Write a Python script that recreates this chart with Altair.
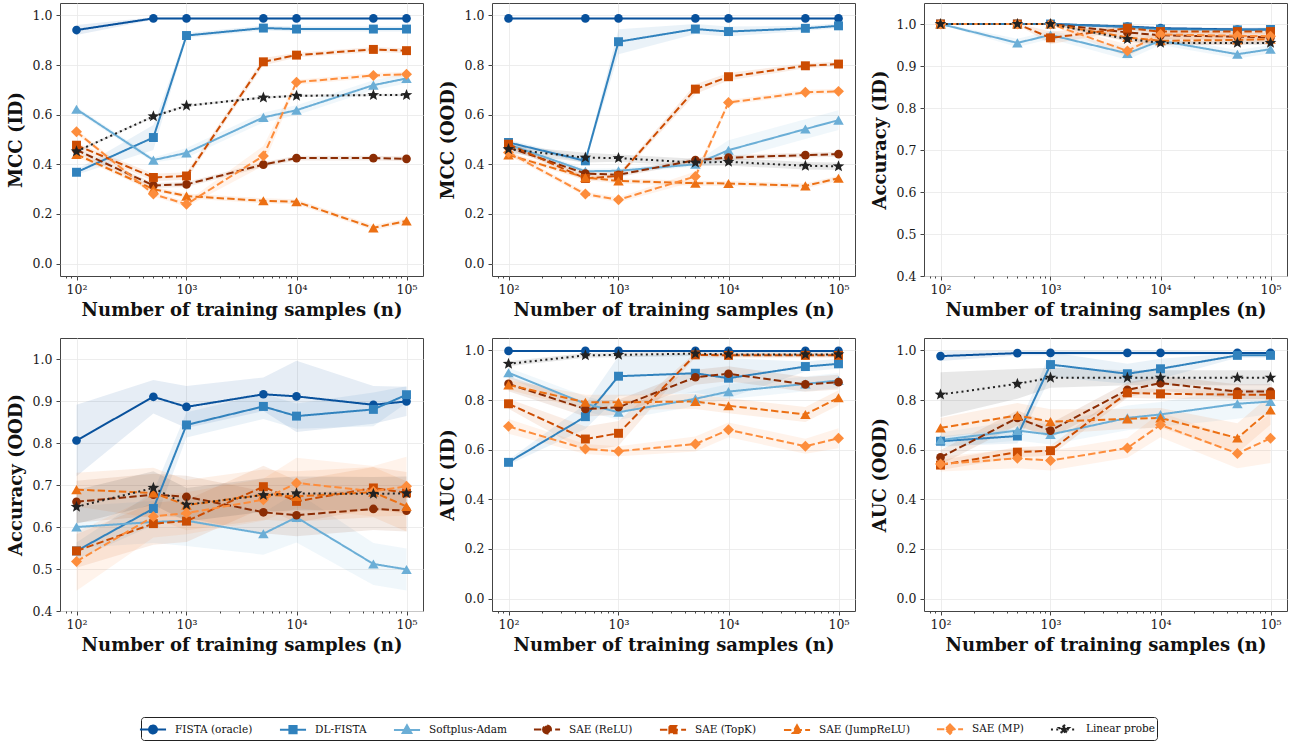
import math
import altair as alt
import pandas as pd

# ---------------------------------------------------------------- data
N_SAMPLES = [100, 500, 1000, 5000, 10000, 50000, 100000]

METHODS = ["FISTA (oracle)", "DL-FISTA", "Softplus-Adam", "SAE (ReLU)",
           "SAE (TopK)", "SAE (JumpReLU)", "SAE (MP)", "Linear probe"]

# rows follow METHODS, columns follow N_SAMPLES
MCC_ID = [
    [0.941, 0.988, 0.988, 0.988, 0.988, 0.988, 0.988],
    [0.368, 0.508, 0.919, 0.949, 0.945, 0.945, 0.945],
    [0.622, 0.417, 0.446, 0.589, 0.618, 0.719, 0.746],
    [0.458, 0.315, 0.319, 0.399, 0.425, 0.425, 0.422],
    [0.477, 0.347, 0.353, 0.813, 0.840, 0.863, 0.858],
    [0.440, 0.300, 0.272, 0.253, 0.249, 0.144, 0.172],
    [0.531, 0.280, 0.239, 0.434, 0.731, 0.758, 0.763],
    [0.452, 0.593, 0.636, 0.669, 0.676, 0.679, 0.679],
]
MCC_ID_SD = [
    [0.020, 0.005, 0.005, 0.005, 0.005, 0.005, 0.005],
    [0.010, 0.050, 0.010, 0.010, 0.010, 0.010, 0.010],
    [0.010, 0.010, 0.020, 0.020, 0.020, 0.020, 0.020],
    [0.010, 0.010, 0.010, 0.010, 0.010, 0.010, 0.010],
    [0.010, 0.015, 0.015, 0.015, 0.010, 0.010, 0.010],
    [0.010, 0.010, 0.010, 0.010, 0.010, 0.010, 0.010],
    [0.010, 0.010, 0.010, 0.040, 0.010, 0.010, 0.010],
    [0.005, 0.005, 0.005, 0.005, 0.005, 0.005, 0.005],
]

MCC_OOD = [
    [0.988, 0.988, 0.988, 0.988, 0.988, 0.988, 0.988],
    [0.488, 0.414, 0.894, 0.945, 0.935, 0.948, 0.958],
    [0.480, 0.372, 0.374, 0.400, 0.457, 0.542, 0.578],
    [0.468, 0.363, 0.358, 0.417, 0.427, 0.437, 0.441],
    [0.481, 0.343, 0.353, 0.703, 0.753, 0.797, 0.804],
    [0.438, 0.347, 0.333, 0.324, 0.323, 0.313, 0.344],
    [0.448, 0.280, 0.257, 0.351, 0.649, 0.690, 0.694],
    [0.461, 0.427, 0.425, 0.407, 0.410, 0.394, 0.392],
]
MCC_OOD_SD = [
    [0.003, 0.003, 0.003, 0.003, 0.003, 0.003, 0.003],
    [0.010, 0.010, 0.050, 0.020, 0.020, 0.010, 0.010],
    [0.010, 0.010, 0.010, 0.010, 0.040, 0.040, 0.040],
    [0.010, 0.010, 0.010, 0.010, 0.010, 0.010, 0.010],
    [0.010, 0.010, 0.010, 0.020, 0.015, 0.010, 0.010],
    [0.010, 0.010, 0.010, 0.010, 0.010, 0.010, 0.010],
    [0.010, 0.010, 0.010, 0.020, 0.010, 0.010, 0.010],
    [0.015, 0.020, 0.015, 0.015, 0.015, 0.015, 0.015],
]

ACC_ID = [
    [1.000, 1.000, 1.000, 0.994, 0.990, 0.987, 0.987],
    [1.000, 1.000, 1.000, 0.993, 0.988, 0.986, 0.987],
    [1.000, 0.955, 0.974, 0.930, 0.960, 0.928, 0.940],
    [1.000, 1.000, 1.000, 0.980, 0.973, 0.970, 0.968],
    [1.000, 1.000, 0.967, 0.990, 0.982, 0.982, 0.982],
    [1.000, 1.000, 1.000, 0.968, 0.960, 0.962, 0.964],
    [1.000, 1.000, 1.000, 0.936, 0.975, 0.972, 0.971],
    [1.000, 1.000, 1.000, 0.964, 0.955, 0.955, 0.955],
]
ACC_ID_SD = [
    [0.002, 0.002, 0.002, 0.002, 0.002, 0.002, 0.002],
    [0.002, 0.002, 0.002, 0.005, 0.005, 0.005, 0.005],
    [0.002, 0.010, 0.010, 0.015, 0.010, 0.010, 0.010],
    [0.002, 0.002, 0.002, 0.010, 0.010, 0.010, 0.010],
    [0.002, 0.002, 0.015, 0.005, 0.005, 0.005, 0.005],
    [0.002, 0.002, 0.002, 0.010, 0.010, 0.010, 0.010],
    [0.002, 0.002, 0.002, 0.015, 0.010, 0.010, 0.010],
    [0.002, 0.002, 0.002, 0.005, 0.005, 0.005, 0.005],
]

ACC_OOD = [
    [0.806, 0.910, 0.886, 0.916, 0.911, 0.891, 0.899],
    [0.543, 0.644, 0.843, 0.887, 0.864, 0.880, 0.915],
    [0.600, 0.612, 0.615, 0.584, 0.623, 0.512, 0.499],
    [0.660, 0.677, 0.672, 0.635, 0.628, 0.643, 0.639],
    [0.543, 0.608, 0.614, 0.696, 0.661, 0.693, 0.681],
    [0.689, 0.681, 0.652, 0.677, 0.673, 0.683, 0.649],
    [0.518, 0.625, 0.633, 0.665, 0.705, 0.685, 0.697],
    [0.648, 0.693, 0.653, 0.676, 0.680, 0.679, 0.680],
]
ACC_OOD_SD = [
    [0.085, 0.040, 0.050, 0.040, 0.085, 0.045, 0.035],
    [0.020, 0.040, 0.030, 0.030, 0.030, 0.040, 0.020],
    [0.050, 0.050, 0.060, 0.050, 0.060, 0.050, 0.050],
    [0.050, 0.050, 0.050, 0.050, 0.050, 0.050, 0.050],
    [0.040, 0.050, 0.050, 0.050, 0.050, 0.050, 0.050],
    [0.040, 0.060, 0.060, 0.060, 0.060, 0.060, 0.060],
    [0.070, 0.050, 0.050, 0.050, 0.060, 0.060, 0.070],
    [0.040, 0.040, 0.040, 0.040, 0.040, 0.040, 0.040],
]

AUC_ID = [
    [0.998, 0.998, 0.998, 0.998, 0.998, 0.998, 0.998],
    [0.549, 0.733, 0.896, 0.908, 0.888, 0.935, 0.946],
    [0.910, 0.785, 0.751, 0.805, 0.834, 0.865, 0.879],
    [0.865, 0.764, 0.771, 0.892, 0.906, 0.863, 0.872],
    [0.785, 0.643, 0.666, 0.982, 0.980, 0.980, 0.980],
    [0.861, 0.791, 0.791, 0.794, 0.777, 0.742, 0.809],
    [0.694, 0.603, 0.594, 0.623, 0.680, 0.614, 0.646],
    [0.946, 0.980, 0.982, 0.987, 0.984, 0.984, 0.984],
]
AUC_ID_SD = [
    [0.003, 0.003, 0.003, 0.003, 0.003, 0.003, 0.003],
    [0.010, 0.050, 0.080, 0.080, 0.080, 0.020, 0.020],
    [0.020, 0.030, 0.030, 0.030, 0.030, 0.030, 0.030],
    [0.030, 0.030, 0.030, 0.030, 0.030, 0.030, 0.030],
    [0.020, 0.050, 0.050, 0.010, 0.010, 0.010, 0.010],
    [0.020, 0.030, 0.030, 0.030, 0.030, 0.030, 0.030],
    [0.030, 0.020, 0.020, 0.030, 0.030, 0.030, 0.040],
    [0.010, 0.010, 0.010, 0.010, 0.010, 0.010, 0.010],
]

AUC_OOD = [
    [0.977, 0.989, 0.990, 0.990, 0.990, 0.990, 0.990],
    [0.634, 0.655, 0.943, 0.906, 0.926, 0.980, 0.980],
    [0.639, 0.677, 0.661, 0.728, 0.742, 0.785, 0.794],
    [0.569, 0.728, 0.677, 0.841, 0.868, 0.834, 0.834],
    [0.538, 0.590, 0.596, 0.829, 0.825, 0.822, 0.821],
    [0.688, 0.738, 0.713, 0.724, 0.728, 0.647, 0.760],
    [0.542, 0.565, 0.556, 0.607, 0.700, 0.585, 0.646],
    [0.822, 0.865, 0.890, 0.890, 0.890, 0.890, 0.890],
]
AUC_OOD_SD = [
    [0.020, 0.010, 0.010, 0.010, 0.010, 0.005, 0.005],
    [0.020, 0.030, 0.050, 0.040, 0.040, 0.010, 0.010],
    [0.030, 0.040, 0.040, 0.050, 0.050, 0.060, 0.050],
    [0.030, 0.030, 0.030, 0.030, 0.030, 0.030, 0.030],
    [0.020, 0.020, 0.020, 0.020, 0.020, 0.020, 0.020],
    [0.040, 0.050, 0.050, 0.040, 0.040, 0.060, 0.060],
    [0.030, 0.040, 0.040, 0.040, 0.050, 0.060, 0.100],
    [0.090, 0.060, 0.040, 0.030, 0.030, 0.030, 0.030],
]

# ---------------------------------------------------------------- style
COLORS = ["#08519c", "#3182bd", "#6baed6", "#8c2d04",
          "#cc4c02", "#ec7014", "#fd8d3c", "#222222"]
SOLID, DASHED, DOTTED = [1, 0], [7.4, 3.2], [2, 3.3]
DASHES = [SOLID, SOLID, SOLID, DASHED, DASHED, DASHED, DASHED, DOTTED]


def star_path(r_out, r_in=None):
    r_in = r_out * 0.42 if r_in is None else r_in
    pts = []
    for k in range(10):
        a = math.radians(-90 + 36 * k)
        r = r_out if k % 2 == 0 else r_in
        pts.append(f"{r * math.cos(a):.3f},{r * math.sin(a):.3f}")
    return "M" + "L".join(pts) + "Z"


STAR = star_path(1.0)
MARKERS = ["circle", "square", "triangle-up", "circle",
           "square", "triangle-up", "diamond", STAR]
MARKER_SIZES = [75, 80, 110, 75, 80, 110, 120, 150]

# legend glyphs: a short line segment with the marker drawn over it
SEG = "M-1.45,0L1.45,0"
c = 0.44
GLYPH_CIRCLE = f"{SEG}M-{c},0A{c},{c},0,1,0,{c},0A{c},{c},0,1,0,-{c},0Z"
GLYPH_SQUARE = f"{SEG}M-0.4,-0.4L0.4,-0.4L0.4,0.4L-0.4,0.4Z"
GLYPH_TRIANGLE = f"{SEG}M0,-0.52L0.48,0.34L-0.48,0.34Z"
GLYPH_DIAMOND = f"{SEG}M0,-0.52L0.52,0L0,0.52L-0.52,0Z"
GLYPH_STAR = SEG + star_path(0.55)
LEGEND_PATHS = [GLYPH_CIRCLE, GLYPH_SQUARE, GLYPH_TRIANGLE, GLYPH_CIRCLE,
                GLYPH_SQUARE, GLYPH_TRIANGLE, GLYPH_DIAMOND, GLYPH_STAR]

PANELS = [
    ("mcc_id", "MCC (ID)", MCC_ID, MCC_ID_SD, "unit"),
    ("mcc_ood", "MCC (OOD)", MCC_OOD, MCC_OOD_SD, "unit"),
    ("acc_id", "Accuracy (ID)", ACC_ID, ACC_ID_SD, "acc"),
    ("acc_ood", "Accuracy (OOD)", ACC_OOD, ACC_OOD_SD, "acc"),
    ("auc_id", "AUC (ID)", AUC_ID, AUC_ID_SD, "unit"),
    ("auc_ood", "AUC (OOD)", AUC_OOD, AUC_OOD_SD, "unit"),
]

rows = []
for key, _, vals, sds, _ in PANELS:
    for mi, m in enumerate(METHODS):
        for n, v, s in zip(N_SAMPLES, vals[mi], sds[mi]):
            rows.append({"panel": key, "method": m, "n": n, "value": v,
                         "lo": v - s, "hi": v + s,
                         "marker": MARKERS[mi], "msize": MARKER_SIZES[mi]})
df = pd.DataFrame(rows)

# ---------------------------------------------------------------- axes
FONT = "DejaVu Serif"
PW, PH = 363, 273
X_DOMAIN = [10 ** 1.85, 10 ** 5.15]
MAJOR = [100, 1000, 10000, 100000]
MINOR = [80, 90] + [k * 10 ** e for e in (2, 3, 4) for k in range(2, 10)]
IS_MAJOR = "indexof([100, 1000, 10000, 100000], datum.value) >= 0"

x_axis = alt.Axis(
    values=sorted(MAJOR + MINOR),
    labelExpr=("datum.value == 100 ? '10²' : datum.value == 1000 ? '10³' : "
               "datum.value == 10000 ? '10⁴' : datum.value == 100000 ? '10⁵' : ''"),
    tickSize=alt.condition(IS_MAJOR, alt.value(4), alt.value(2)),
    gridOpacity=alt.condition(IS_MAJOR, alt.value(1), alt.value(0)),
    labelOverlap=False, labelFlush=False, labelPadding=3, titlePadding=6,
)
X_TITLE = "Number of training samples (n)"

Y_SPECS = {
    "unit": ([-0.05, 1.05], [0.0, 0.2, 0.4, 0.6, 0.8, 1.0]),
    "acc": ([0.4, 1.05], [0.4, 0.5, 0.6, 0.7, 0.8, 0.9, 1.0]),
}

color = alt.Color("method:N", scale=alt.Scale(domain=METHODS, range=COLORS), legend=None)

# line styles are drawn as separate layers, one per dash pattern
LINE_GROUPS = [
    ([m for m, d in zip(METHODS, DASHES) if d == SOLID], SOLID),
    ([m for m, d in zip(METHODS, DASHES) if d == DASHED], DASHED),
    ([m for m, d in zip(METHODS, DASHES) if d == DOTTED], DOTTED),
]


def panel(key, ytitle, kind):
    ydom, yticks = Y_SPECS[kind]
    yscale = alt.Scale(domain=ydom, nice=False, zero=False)
    yaxis = alt.Axis(values=yticks, format=".1f", tickSize=4, labelPadding=4, titlePadding=7)
    x = alt.X("n:Q", scale=alt.Scale(type="log", domain=X_DOMAIN, nice=False),
              axis=x_axis, title=X_TITLE)
    y_val = alt.Y("value:Q", scale=yscale, axis=yaxis, title=ytitle)
    base = alt.Chart().transform_filter(alt.datum.panel == key)
    layers = [base.mark_area(opacity=0.1).encode(
        x=x, y=alt.Y("lo:Q", scale=yscale, axis=yaxis, title=ytitle), y2="hi:Q", color=color)]
    for members, pattern in LINE_GROUPS:
        layers.append(
            base.transform_filter(alt.FieldOneOfPredicate(field="method", oneOf=members))
            .mark_line(strokeWidth=2, strokeDash=pattern)
            .encode(x=x, y=y_val, color=color))
    layers.append(base.mark_point(filled=True, opacity=1).encode(
        x=x, y=y_val, color=color,
        shape=alt.Shape("marker:N", scale=None),
        size=alt.Size("msize:Q", scale=None)))
    return alt.layer(*layers).properties(width=PW, height=PH)


charts = [panel(k, t, kind) for k, t, _, _, kind in PANELS]

# ---------------------------------------------------------------- legend
leg = alt.Legend(
    orient="none", legendX=81, legendY=44, direction="horizontal", columns=8,
    title=None, symbolSize=324, symbolStrokeWidth=2,
    labelFont=FONT, labelFontSize=10.5, labelColor="#111111",
    strokeColor="#222222", fillColor="#ffffff", cornerRadius=3, padding=2,
    columnPadding=22, labelOffset=12,
)
legend_chart = alt.Chart().transform_filter("false").mark_point(
    filled=True, opacity=1).encode(
    fill=alt.Fill("method:N", scale=alt.Scale(domain=METHODS, range=COLORS), legend=leg),
    stroke=alt.Stroke("method:N", scale=alt.Scale(domain=METHODS, range=COLORS), legend=leg),
    shape=alt.Shape("method:N", scale=alt.Scale(domain=METHODS, range=LEGEND_PATHS), legend=leg),
    strokeDash=alt.StrokeDash("method:N", scale=alt.Scale(domain=METHODS, range=DASHES), legend=leg),
).properties(width=1, height=1, view=alt.ViewBackground(strokeOpacity=0))

chart = alt.concat(
    *charts, legend_chart, columns=3, spacing={"row": 62, "column": 69},
    bounds="flush", data=df,
).resolve_scale(
    color="independent", fill="independent", stroke="independent",
    shape="independent", strokeDash="independent",
).properties(
    padding={"left": 6, "top": 2, "right": 5, "bottom": 2},
    background="#ffffff",
).configure_view(
    stroke="#444444", strokeWidth=1,
).configure_axis(
    labelFont=FONT, labelFontSize=12.5, labelColor="#1a1a1a",
    titleFont=FONT, titleFontSize=18, titleFontWeight="bold", titleColor="#111111",
    domain=False, tickColor="#444444", gridColor="#e8e8e8", gridWidth=0.8,
)

chart.save("out.html", embed_options={"renderer": "svg", "actions": False})
